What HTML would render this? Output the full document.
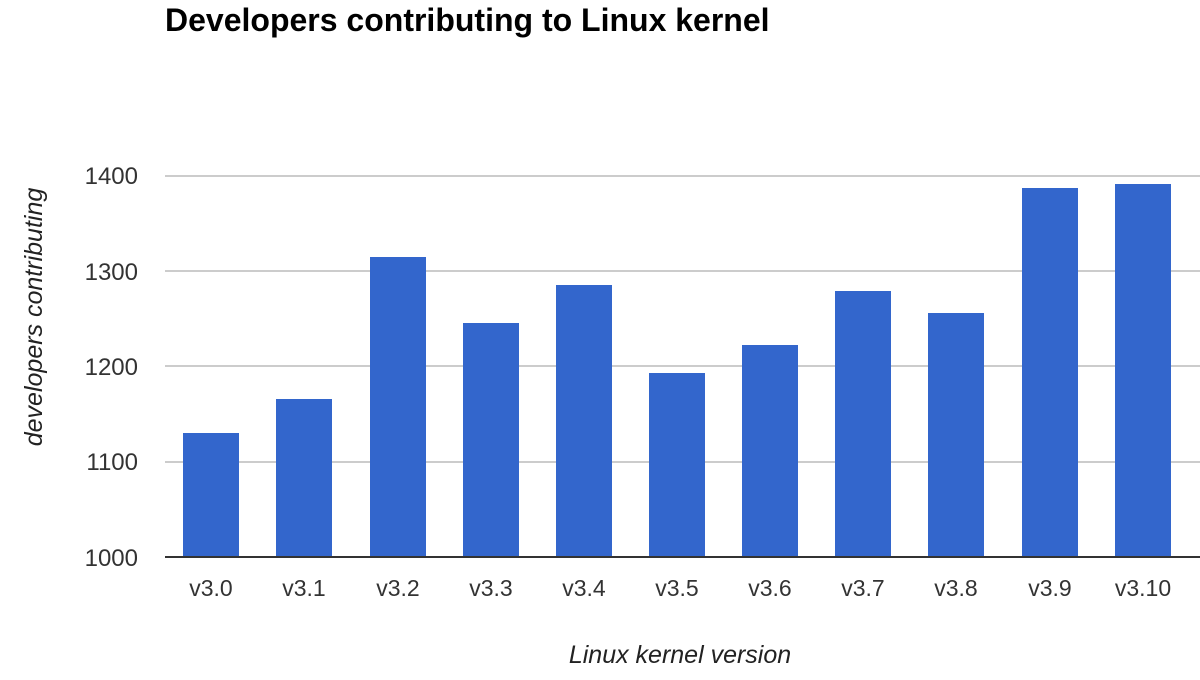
<!DOCTYPE html>
<html><head><meta charset="utf-8"><style>
body{margin:0;background:#fff;width:1200px;height:675px;overflow:hidden}
</style></head><body>
<svg width="1200" height="675" xmlns="http://www.w3.org/2000/svg" font-family="Liberation Sans, Arial, sans-serif">
<text x="165" y="31" font-size="32" font-weight="bold" fill="#000">Developers contributing to Linux kernel</text>
<g stroke="#cccccc" stroke-width="2">
<line x1="165" x2="1200" y1="176" y2="176"/>
<line x1="165" x2="1200" y1="271" y2="271"/>
<line x1="165" x2="1200" y1="366" y2="366"/>
<line x1="165" x2="1200" y1="462" y2="462"/>
</g>
<g fill="#3366cc">
<rect x="183" y="433" width="56" height="124"/>
<rect x="276" y="399" width="56" height="158"/>
<rect x="370" y="257" width="56" height="300"/>
<rect x="463" y="323" width="56" height="234"/>
<rect x="556" y="285" width="56" height="272"/>
<rect x="649" y="373" width="56" height="184"/>
<rect x="742" y="345" width="56" height="212"/>
<rect x="835" y="291" width="56" height="266"/>
<rect x="928" y="313" width="56" height="244"/>
<rect x="1022" y="188" width="56" height="369"/>
<rect x="1115" y="184" width="56" height="373"/>
</g>
<line x1="165" x2="1200" y1="557" y2="557" stroke="#333" stroke-width="2"/>
<g font-size="24" fill="#333" text-anchor="end">
<text x="138" y="184">1400</text>
<text x="138" y="280">1300</text>
<text x="138" y="375">1200</text>
<text x="138" y="470">1100</text>
<text x="138" y="566">1000</text>
</g>
<g font-size="23" fill="#333" text-anchor="middle">
<text x="211" y="596">v3.0</text>
<text x="304" y="596">v3.1</text>
<text x="398" y="596">v3.2</text>
<text x="491" y="596">v3.3</text>
<text x="584" y="596">v3.4</text>
<text x="677" y="596">v3.5</text>
<text x="770" y="596">v3.6</text>
<text x="863" y="596">v3.7</text>
<text x="956" y="596">v3.8</text>
<text x="1050" y="596">v3.9</text>
<text x="1143" y="596">v3.10</text>
</g>
<text x="680" y="663" font-size="25" font-style="italic" fill="#222" text-anchor="middle">Linux kernel version</text>
<text transform="translate(42,317) rotate(-90)" font-size="25" font-style="italic" fill="#222" text-anchor="middle">developers contributing</text>
</svg>
</body></html>
